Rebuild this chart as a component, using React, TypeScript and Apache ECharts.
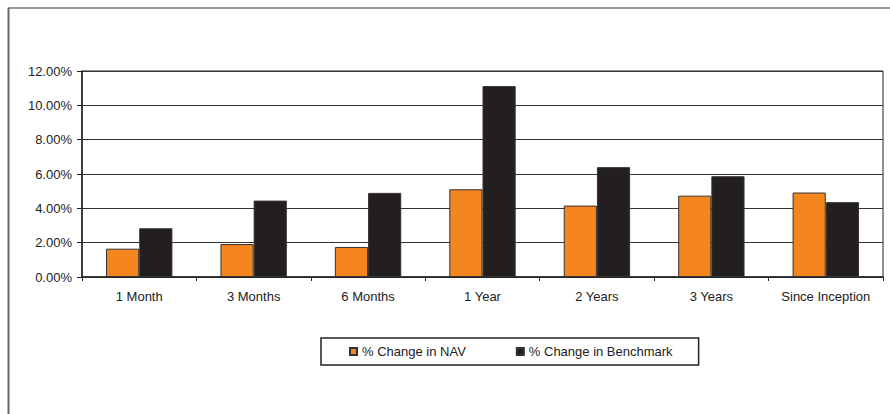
import React, { useEffect, useRef } from "react";
import * as echarts from "echarts";

const categories = ["1 Month", "3 Months", "6 Months", "1 Year", "2 Years", "3 Years", "Since Inception"];
const navChange = [1.65, 1.92, 1.75, 5.11, 4.16, 4.74, 4.92];
const benchmarkChange = [2.84, 4.45, 4.9, 11.12, 6.4, 5.87, 4.36];
const seriesNames = ["% Change in NAV", "% Change in Benchmark"];

const FONT = "'Liberation Sans', Arial, sans-serif";

export default function App() {
  const ref = useRef<HTMLDivElement>(null);
  useEffect(() => {
    if (!ref.current) return;
    const chart = echarts.init(ref.current, undefined, { renderer: "svg" });
    chart.setOption({
      animation: false,
      backgroundColor: "#ffffff",
      textStyle: { fontFamily: FONT },
      grid: {
        left: 82,
        top: 71,
        right: 7,
        bottom: 137,
        show: true,
        borderColor: "#222",
        borderWidth: 1,
        backgroundColor: "transparent",
      },
      legend: {
        data: seriesNames,
        left: 321,
        top: 338,
        padding: [7, 26, 7, 28],
        itemWidth: 7,
        itemHeight: 7,
        itemGap: 50,
        borderColor: "#222",
        borderWidth: 1.5,
        icon: "rect",
        textStyle: { fontFamily: FONT, fontSize: 13, color: "#222" },
      },
      xAxis: {
        type: "category",
        data: categories,
        axisLine: { lineStyle: { color: "#222", width: 1.5 } },
        axisTick: { show: true, length: 4, lineStyle: { color: "#222" } },
        axisLabel: { fontFamily: FONT, fontSize: 13, color: "#222", margin: 13, interval: 0 },
      },
      yAxis: {
        type: "value",
        min: 0,
        max: 12,
        interval: 2,
        axisLine: { show: true, lineStyle: { color: "#222", width: 1.5 } },
        axisTick: { show: true, length: 5, lineStyle: { color: "#222" } },
        axisLabel: {
          fontFamily: FONT,
          fontSize: 13,
          color: "#222",
          margin: 10,
          formatter: (v: number) => v.toFixed(2) + "%",
        },
        splitLine: { show: true, lineStyle: { color: "#333", width: 1 } },
      },
      series: [
        {
          name: seriesNames[0],
          type: "bar",
          data: navChange,
          barGap: "0%",
          barCategoryGap: "42%",
          itemStyle: { color: "#F5851F", borderColor: "#333", borderWidth: 1 },
        },
        {
          name: seriesNames[1],
          type: "bar",
          data: benchmarkChange,
          barGap: "0%",
          barCategoryGap: "42%",
          itemStyle: { color: "#231F20", borderColor: "#333", borderWidth: 1 },
        },
      ],
      graphic: [
        {
          type: "line",
          shape: { x1: 8, y1: 8, x2: 890, y2: 8 },
          style: { stroke: "#777", lineWidth: 1.5 },
        },
        {
          type: "line",
          shape: { x1: 8.5, y1: 8, x2: 8.5, y2: 414 },
          style: { stroke: "#666", lineWidth: 2 },
        },
      ],
    });
    return () => chart.dispose();
  }, []);
  return (
    <div
      ref={ref}
      style={{ position: "fixed", left: 0, top: 0, width: 890, height: 414, background: "#fff" }}
    />
  );
}
